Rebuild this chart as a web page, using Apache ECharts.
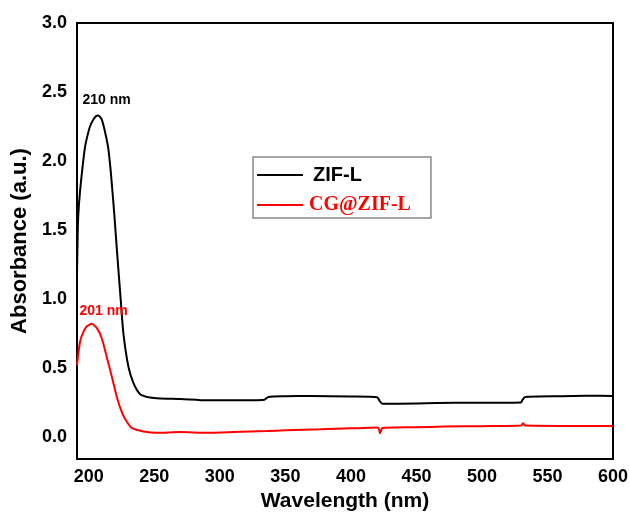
<!DOCTYPE html>
<html>
<head>
<meta charset="utf-8">
<script src="https://cdn.jsdelivr.net/npm/echarts@6/dist/echarts.min.js"></script>
<style>
  html, body { margin: 0; padding: 0; background: #fff; }
  #chart { width: 630px; height: 513px; }
</style>
</head>
<body>
<div id="chart"></div>
<script>
// 数据：波长 (nm) 与吸光度
var zifWave = [191, 191.5, 192, 193.3, 195.4, 197.1, 198.9, 200.9, 203.5, 205.5, 207.3, 209.9, 212.4, 214.9, 216.8, 218.3, 219.5, 221.4, 224.4, 226.4, 230.2, 234.1, 239.2, 246.8, 254.5, 270, 290, 310, 334, 337, 350, 369, 400, 420, 422, 424, 450, 480, 510, 529.8, 531, 533, 560, 580, 600];
var zifAbs = [1.18, 1.45, 1.61, 1.78, 1.97, 2.10, 2.18, 2.25, 2.30, 2.325, 2.33, 2.30, 2.21, 2.09, 1.92, 1.75, 1.61, 1.36, 0.99, 0.75, 0.51, 0.39, 0.31, 0.285, 0.278, 0.275, 0.265, 0.265, 0.27, 0.29, 0.295, 0.297, 0.293, 0.288, 0.26, 0.24, 0.243, 0.247, 0.248, 0.25, 0.27, 0.29, 0.295, 0.298, 0.297];

var cgWave = [191, 193.3, 195.8, 198.4, 202.2, 206.1, 209.9, 213.7, 217.5, 221.4, 225.2, 229, 233.1, 241.7, 252, 270, 290, 310, 336, 350, 377, 400, 420, 421.5, 422.2, 423, 424, 450, 471, 500, 529.8, 531.5, 533, 560, 600];
var cgAbs = [0.52, 0.69, 0.76, 0.80, 0.82, 0.79, 0.715, 0.58, 0.44, 0.29, 0.18, 0.11, 0.063, 0.04, 0.03, 0.035, 0.03, 0.035, 0.043, 0.048, 0.055, 0.062, 0.068, 0.055, 0.027, 0.045, 0.065, 0.07, 0.075, 0.078, 0.082, 0.1, 0.082, 0.08, 0.08];

var xTicks = [200, 250, 300, 350, 400, 450, 500, 550, 600];
var yTicks = [0, 0.5, 1.0, 1.5, 2.0, 2.5, 3.0];

// 峰值标注 [x, y, 文本]
var zifPeakNote = [213.6, 2.44, '210 nm'];
var cgPeakNote = [211.3, 0.913, '201 nm'];

function pairs(xs, ys) {
  return xs.map(function (x, i) { return [x, ys[i]]; });
}

var font = 'Liberation Sans';

function peakMark(note, color) {
  return {
    symbol: 'circle',
    symbolSize: 0,
    silent: true,
    data: [{
      coord: [note[0], note[1]],
      label: {
        show: true,
        position: 'inside',
        formatter: note[2],
        color: color,
        fontSize: 14,
        fontWeight: 'bold',
        fontFamily: font
      }
    }]
  };
}

var option = {
  animation: false,
  backgroundColor: '#fff',
  grid: {
    left: 77, top: 23, right: 17, bottom: 54,
    outerBoundsMode: 'none',
    containLabel: false,
    show: true,
    borderColor: '#000',
    borderWidth: 2
  },
  legend: {
    orient: 'vertical',
    left: 253,
    top: 157,
    padding: [8, 20, 3, 4],
    borderColor: '#888',
    borderWidth: 1.5,
    itemWidth: 46,
    itemHeight: 2,
    itemGap: 10,
    icon: 'rect',
    data: [
      { name: 'ZIF-L', textStyle: { color: '#000', fontFamily: font, fontWeight: 'bold', fontSize: 20, padding: [0, 0, 0, 5] } },
      { name: 'CG@ZIF-L', textStyle: { color: '#ff0000', fontFamily: 'Liberation Serif', fontWeight: 'bold', fontSize: 20, padding: [0, 0, 0, 1] } }
    ]
  },
  xAxis: {
    type: 'value',
    min: 191,
    max: 600,
    name: 'Wavelength (nm)',
    nameLocation: 'middle',
    nameGap: 30,
    nameTextStyle: { fontFamily: font, fontWeight: 'bold', fontSize: 21, color: '#000' },
    axisLine: { show: true, onZero: false, lineStyle: { color: '#000', width: 2 } },
    axisTick: { show: false },
    splitLine: { show: false },
    axisLabel: {
      customValues: xTicks,
      margin: 9,
      fontFamily: font, fontWeight: 'bold', fontSize: 18, color: '#000'
    }
  },
  yAxis: {
    type: 'value',
    min: -0.16,
    max: 3.0,
    name: 'Absorbance (a.u.)',
    nameLocation: 'middle',
    nameGap: 44,
    nameTextStyle: { fontFamily: font, fontWeight: 'bold', fontSize: 22, color: '#000' },
    axisLine: { show: true, onZero: false, lineStyle: { color: '#000', width: 2 } },
    axisTick: { show: false },
    splitLine: { show: false },
    axisLabel: {
      customValues: yTicks,
      margin: 10,
      formatter: function (v) { return v.toFixed(1); },
      fontFamily: font, fontWeight: 'bold', fontSize: 18, color: '#000'
    }
  },
  series: [
    {
      name: 'ZIF-L',
      type: 'line',
      data: pairs(zifWave, zifAbs),
      showSymbol: false,
      symbol: 'none',
      smooth: 0.2,
      lineStyle: { color: '#000', width: 2 },
      itemStyle: { color: '#000' },
      markPoint: peakMark(zifPeakNote, '#000')
    },
    {
      name: 'CG@ZIF-L',
      type: 'line',
      data: pairs(cgWave, cgAbs),
      showSymbol: false,
      symbol: 'none',
      smooth: 0.2,
      lineStyle: { color: '#ff0000', width: 2 },
      itemStyle: { color: '#ff0000' },
      markPoint: peakMark(cgPeakNote, '#ff0000')
    }
  ]
};

var myChart = echarts.init(document.getElementById('chart'));
myChart.setOption(option);
</script>
</body>
</html>
